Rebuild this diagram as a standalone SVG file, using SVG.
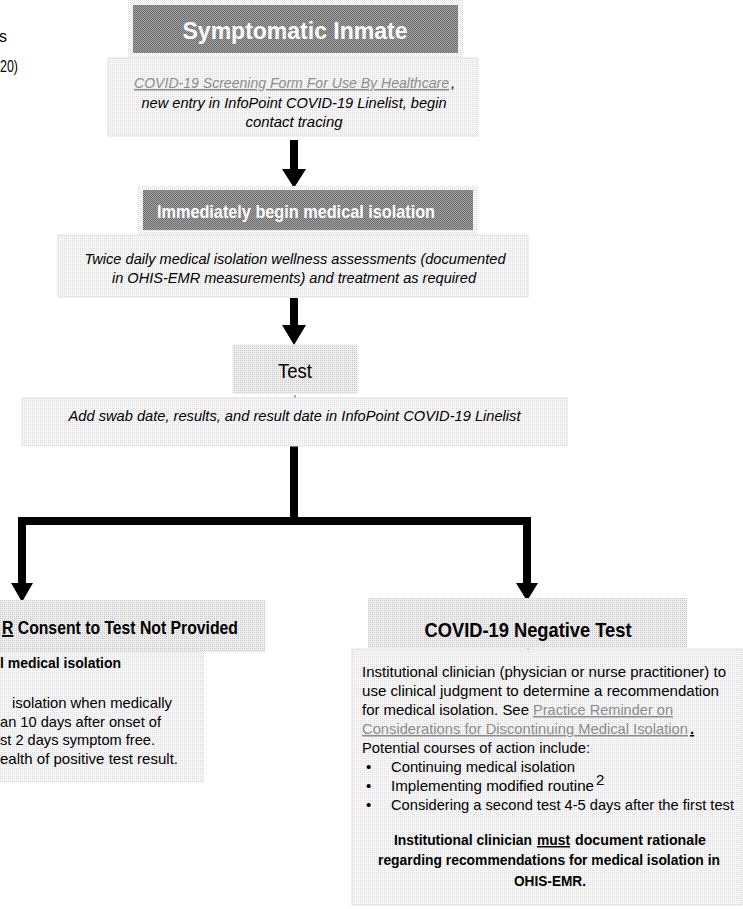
<svg xmlns="http://www.w3.org/2000/svg" width="743" height="909" viewBox="0 0 743 909">
<style>
  text { font-family: "Liberation Sans", Arial, sans-serif; fill: #000; }
  .page { font-size: 16px; }
  .hdr { font-weight: bold; fill: #fff; text-anchor: middle; }
  .it { font-size: 15px; font-style: italic; }
  .mid { text-anchor: middle; }
  .link { fill: #8c8c8c; text-decoration: underline; }
  .body { font-size: 15px; }
  .bold { font-weight: bold; }
  .big { font-weight: bold; }
  .test { font-size: 20px; text-anchor: middle; }
  .tick { stroke: #555; stroke-width: 1; }
  .conn { fill: none; stroke: #000; stroke-width: 8; stroke-linejoin: miter; }
  .head { fill: #000; }
</style>
<defs>
  <pattern id="lt" width="2" height="2" patternUnits="userSpaceOnUse">
    <rect width="2" height="2" fill="#f7f7f7"/>
    <rect width="1" height="1" fill="#dedede"/>
  </pattern>
  <pattern id="lt2" width="2" height="2" patternUnits="userSpaceOnUse">
    <rect width="2" height="2" fill="#eeeeee"/>
    <rect width="1" height="1" fill="#c8c8c8"/>
  </pattern>
  <pattern id="dk" width="2" height="2" patternUnits="userSpaceOnUse">
    <rect width="2" height="2" fill="#a2a2a2"/>
    <rect width="1" height="1" fill="#6c6c6c"/>
    <rect x="1" y="1" width="1" height="1" fill="#6c6c6c"/>
  </pattern>
</defs>

<g id="page-fragments">
  <text class="page" x="-1" y="42">s</text>
  <text class="page" x="0" y="72" textLength="18" lengthAdjust="spacingAndGlyphs">20)</text>
</g>

<g id="connectors">
  <path class="head" d="M290,140 h8 v29 h8 l-12,19 l-12,-19 h8 z"/>
  <path class="head" d="M290,298 h8 v27 h8 l-12,20 l-12,-20 h8 z"/>
  <path class="conn" d="M294,446 V521 M22,584 V521 H527 V584"/>
  <polygon class="head" points="11,583 33,583 22,602"/>
  <polygon class="head" points="516,583 538,583 527,601"/>
  <line class="tick" x1="295" y1="55" x2="295" y2="64"/>
  <line class="tick" x1="294" y1="231" x2="294" y2="238"/>
  <line class="tick" x1="295" y1="395" x2="295" y2="402"/>
  <line class="tick" x1="528" y1="648" x2="528" y2="652"/>
</g>

<g id="n-symptomatic">
  <rect x="128" y="0" width="335" height="58" fill="url(#lt)"/>
  <rect x="133" y="5" width="325" height="48" fill="url(#dk)"/>
  <text class="hdr" x="295" y="39" font-size="23" textLength="225" lengthAdjust="spacingAndGlyphs">Symptomatic Inmate</text>
</g>

<g id="n-screening">
  <rect x="108" y="58" width="370" height="78" fill="url(#lt)" stroke="#e2e2e2" stroke-width="1"/>
  <text class="it link" x="134" y="88" textLength="315" lengthAdjust="spacingAndGlyphs">COVID-19 Screening Form For Use By Healthcare</text>
  <text class="it" x="451" y="88">,</text>
  <text class="it mid" x="294" y="108" textLength="305" lengthAdjust="spacingAndGlyphs">new entry in InfoPoint COVID-19 Linelist, begin</text>
  <text class="it mid" x="294" y="127" textLength="97" lengthAdjust="spacingAndGlyphs">contact tracing</text>
</g>

<g id="n-isolation">
  <rect x="138" y="186" width="340" height="49" fill="url(#lt)"/>
  <rect x="143" y="190" width="330" height="40" fill="url(#dk)"/>
  <text class="hdr" x="296" y="218" font-size="19" textLength="278" lengthAdjust="spacingAndGlyphs">Immediately begin medical isolation</text>
</g>

<g id="n-assessments">
  <rect x="58" y="235" width="470" height="62" fill="url(#lt)" stroke="#e2e2e2" stroke-width="1"/>
  <text class="it mid" x="295" y="264" textLength="421" lengthAdjust="spacingAndGlyphs">Twice daily medical isolation wellness assessments (documented</text>
  <text class="it mid" x="294" y="283" textLength="364" lengthAdjust="spacingAndGlyphs">in OHIS-EMR measurements) and treatment as required</text>
</g>

<g id="n-test">
  <rect x="233" y="345" width="124" height="48" fill="url(#lt2)" stroke="#e4e4e4" stroke-width="1"/>
  <text class="test" x="295" y="378" textLength="34" lengthAdjust="spacingAndGlyphs">Test</text>
</g>

<g id="n-swab">
  <rect x="22" y="398" width="545" height="48" fill="url(#lt)" stroke="#e2e2e2" stroke-width="1"/>
  <text class="it mid" x="294.5" y="421" textLength="452" lengthAdjust="spacingAndGlyphs">Add swab date, results, and result date in InfoPoint COVID-19 Linelist</text>
</g>

<g id="n-positive">
  <rect x="-5" y="600" width="270" height="52" fill="url(#lt2)"/>
  <text class="big" x="2" y="634" font-size="19" textLength="236" lengthAdjust="spacingAndGlyphs"><tspan text-decoration="underline">R</tspan> Consent to Test Not Provided</text>
</g>

<g id="n-positive-body">
  <rect x="-5" y="652" width="208" height="130" fill="url(#lt)" stroke="#e2e2e2" stroke-width="1"/>
  <text class="body bold" x="0" y="668" textLength="121" lengthAdjust="spacingAndGlyphs">l medical isolation</text>
  <text class="body" x="12" y="708" textLength="160" lengthAdjust="spacingAndGlyphs">isolation when medically</text>
  <text class="body" x="0" y="727" textLength="161" lengthAdjust="spacingAndGlyphs">an 10 days after onset of</text>
  <text class="body" x="0" y="745" textLength="155" lengthAdjust="spacingAndGlyphs">st 2 days symptom free.</text>
  <text class="body" x="0" y="764" textLength="178" lengthAdjust="spacingAndGlyphs">ealth of positive test result.</text>
</g>

<g id="n-negative">
  <rect x="368" y="598" width="319" height="50" fill="url(#lt2)"/>
  <text class="big" x="528" y="637" font-size="21" text-anchor="middle" textLength="207" lengthAdjust="spacingAndGlyphs">COVID-19 Negative Test</text>
</g>

<g id="n-negative-body">
  <rect x="352" y="649" width="390" height="256" fill="url(#lt)" stroke="#e2e2e2" stroke-width="1"/>
  <text class="body" x="362" y="677" textLength="364" lengthAdjust="spacingAndGlyphs">Institutional clinician (physician or nurse practitioner) to</text>
  <text class="body" x="362" y="696" textLength="357" lengthAdjust="spacingAndGlyphs">use clinical judgment to determine a recommendation</text>
  <text class="body" x="362" y="715" textLength="167" lengthAdjust="spacingAndGlyphs">for medical isolation.  See</text>
  <text class="body link" x="533" y="715" textLength="140" lengthAdjust="spacingAndGlyphs">Practice Reminder on</text>
  <text class="body link" x="362" y="734" textLength="326" lengthAdjust="spacingAndGlyphs">Considerations for Discontinuing Medical Isolation</text>
  <text class="body bold" x="690" y="734" text-decoration="underline">.</text>
  <text class="body" x="362" y="753" textLength="228" lengthAdjust="spacingAndGlyphs">Potential courses of action include:</text>
  <text class="body" x="366" y="772">•</text>
  <text class="body" x="391" y="772" textLength="184" lengthAdjust="spacingAndGlyphs">Continuing medical isolation</text>
  <text class="body" x="366" y="791">•</text>
  <text class="body" x="391" y="791" textLength="203" lengthAdjust="spacingAndGlyphs">Implementing modified routine</text>
  <text class="body" x="596" y="785" font-size="9">2</text>
  <text class="body" x="366" y="810">•</text>
  <text class="body" x="391" y="810" textLength="343" lengthAdjust="spacingAndGlyphs">Considering a second test 4-5 days after the first test</text>
  <text class="body bold" x="394" y="845" textLength="138" lengthAdjust="spacingAndGlyphs">Institutional clinician</text>
  <text class="body bold" x="537" y="845" text-decoration="underline" textLength="33" lengthAdjust="spacingAndGlyphs">must</text>
  <text class="body bold" x="575" y="845" textLength="131" lengthAdjust="spacingAndGlyphs">document rationale</text>
  <text class="body bold mid" x="549" y="865" textLength="342" lengthAdjust="spacingAndGlyphs">regarding recommendations for medical isolation in</text>
  <text class="body bold mid" x="550" y="886" textLength="72" lengthAdjust="spacingAndGlyphs">OHIS-EMR.</text>
</g>
</svg>
